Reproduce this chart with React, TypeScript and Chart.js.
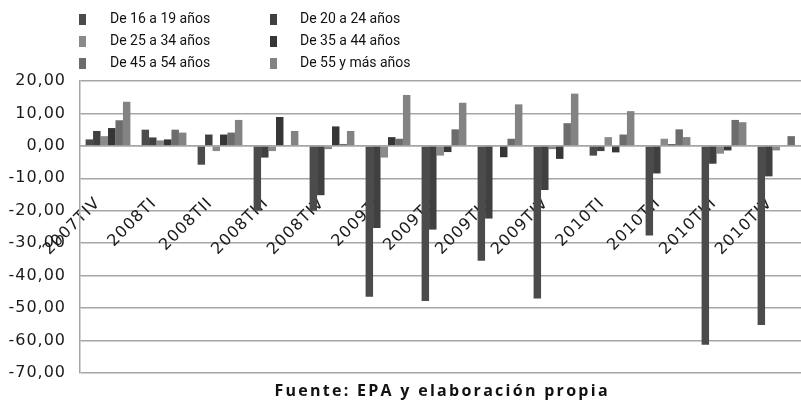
import React, { useEffect, useRef } from "react";
import { Chart, registerables } from "chart.js";

Chart.register(...registerables);

const CATEGORIES = [
  "2007TIV", "2008TI", "2008TII", "2008TIII", "2008TIV",
  "2009TI", "2009TII", "2009TIII", "2009TIV",
  "2010TI", "2010TII", "2010TIII", "2010TIV",
];

const SERIES_NAMES = [
  "De 16 a 19 años",
  "De 20 a 24 años",
  "De 25 a 34 años",
  "De 35 a 44 años",
  "De 45 a 54 años",
  "De 55 y más años",
];

const AGE_16_19 = [2.0, 5.0, -5.8, -20.0, -20.0, -46.5, -47.8, -35.4, -47.0, -3.0, -27.6, -61.3, -55.2];
const AGE_20_24 = [4.6, 2.6, 3.5, -3.6, -15.2, -25.3, -25.8, -22.4, -13.6, -1.6, -8.5, -5.5, -9.4];
const AGE_25_34 = [3.0, 1.7, -1.6, -1.6, -1.0, -3.6, -3.0, 0, -1.0, 2.7, 2.2, -2.4, -1.4];
const AGE_35_44 = [5.5, 2.0, 3.5, 8.9, 6.0, 2.7, -1.9, -3.5, -4.0, -2.0, 0.5, -1.4, 0];
const AGE_45_54 = [7.9, 5.0, 4.1, 0, 0.6, 2.2, 5.1, 2.2, 7.0, 3.5, 5.1, 8.0, 3.0];
const AGE_55_MAS = [13.6, 4.1, 8.0, 4.6, 4.6, 15.7, 13.3, 12.8, 16.1, 10.7, 2.7, 7.3, 0];

const Y_MIN = -70;
const Y_MAX = 20;
const Y_STEP = 10;

const SOURCE_NOTE = "Fuente: EPA y elaboración propia";

const COLORS = ["#4b4b4b", "#404040", "#8a8a8a", "#363636", "#6c6c6c", "#838383"];

const SERIES_VALUES = [AGE_16_19, AGE_20_24, AGE_25_34, AGE_35_44, AGE_45_54, AGE_55_MAS];

const CANVAS_W = 860;
const PLOT_RIGHT = 808;

const spacingPlugin = {
  id: "spacing",
  beforeDraw(chart: any) {
    (chart.ctx as any).letterSpacing = "1px";
  },
};

const overlayPlugin = {
  id: "overlay",
  afterDraw(chart: any) {
    const ctx = chart.ctx as CanvasRenderingContext2D;
    ctx.save();
    (ctx as any).letterSpacing = "0px";
    // legend in two columns, three rows
    ctx.font = "14px Roboto";
    ctx.textBaseline = "middle";
    ctx.textAlign = "left";
    SERIES_NAMES.forEach((name, i) => {
      const col = i % 2;
      const row = Math.floor(i / 2);
      const bx = col === 0 ? 79 : 270;
      const tx = col === 0 ? 110 : 300;
      const cy = 19 + row * 22;
      ctx.fillStyle = COLORS[i];
      ctx.fillRect(bx, cy - 5, 7, 11);
      ctx.fillStyle = "#111";
      ctx.fillText(name, tx, cy);
    });
    // source note as axis title at the bottom, centered on plot area
    const area = chart.chartArea;
    ctx.font = 'bold 16px "Open Sans"';
    ctx.textAlign = "left";
    ctx.textBaseline = "alphabetic";
    const target = 333;
    const w0 = ctx.measureText(SOURCE_NOTE).width;
    const sp = (target - w0) / (SOURCE_NOTE.length - 1);
    (ctx as any).letterSpacing = sp.toFixed(2) + "px";
    const w = ctx.measureText(SOURCE_NOTE).width;
    const cx = (area.left + area.right) / 2 - 3;
    ctx.fillStyle = "#111";
    ctx.fillText(SOURCE_NOTE, cx - w / 2 + sp / 2, 396);
    ctx.restore();
    (ctx as any).letterSpacing = "0px";
  },
};

export default function App() {
  const ref = useRef<HTMLCanvasElement | null>(null);

  useEffect(() => {
    if (!ref.current) return;
    const chart = new Chart(ref.current, {
      type: "bar",
      data: {
        labels: CATEGORIES,
        datasets: SERIES_NAMES.map((name, i) => ({
          label: name,
          data: SERIES_VALUES[i],
          backgroundColor: COLORS[i],
          borderWidth: 0,
          categoryPercentage: 0.8,
          barPercentage: 1.0,
        })),
      },
      options: {
        animation: false,
        responsive: false,
        devicePixelRatio: 1,
        layout: { padding: { top: 81, bottom: 28, left: 0, right: CANVAS_W - PLOT_RIGHT } },
        plugins: {
          legend: { display: false },
          tooltip: { enabled: false },
          title: { display: false },
        },
        scales: {
          x: {
            type: "category",
            position: { y: 0 } as any,
            z: 1,
            grid: { display: false, drawTicks: false },
            border: { display: true, color: "#a6a6a6", width: 1.5 },
            ticks: {
              autoSkip: false,
              minRotation: 45,
              maxRotation: 45,
              padding: 48,
              labelOffset: -10,
              color: "#1a1a1a",
              font: { family: "DejaVu Sans", size: 16 },
            },
          },
          y: {
            min: Y_MIN,
            max: Y_MAX,
            ticks: {
              stepSize: Y_STEP,
              padding: 14,
              color: "#1a1a1a",
              font: { family: "DejaVu Sans", size: 16 },
              callback: (v: any) => Number(v).toFixed(2).replace(".", ","),
            },
            grid: { color: "#a6a6a6", lineWidth: 1.5, drawTicks: false },
            border: { display: true, color: "#a6a6a6", width: 1.5 },
            afterFit: (s: any) => {
              s.width = 80;
            },
          },
        },
      },
      plugins: [spacingPlugin, overlayPlugin],
    });
    return () => chart.destroy();
  }, []);

  return (
    <div
      style={{
        position: "fixed",
        left: 0,
        top: 0,
        width: 801,
        height: 401,
        overflow: "hidden",
        background: "#fff",
      }}
    >
      <canvas
        ref={ref}
        width={CANVAS_W}
        height={401}
        style={{ width: CANVAS_W, height: 401, display: "block" }}
      />
    </div>
  );
}
